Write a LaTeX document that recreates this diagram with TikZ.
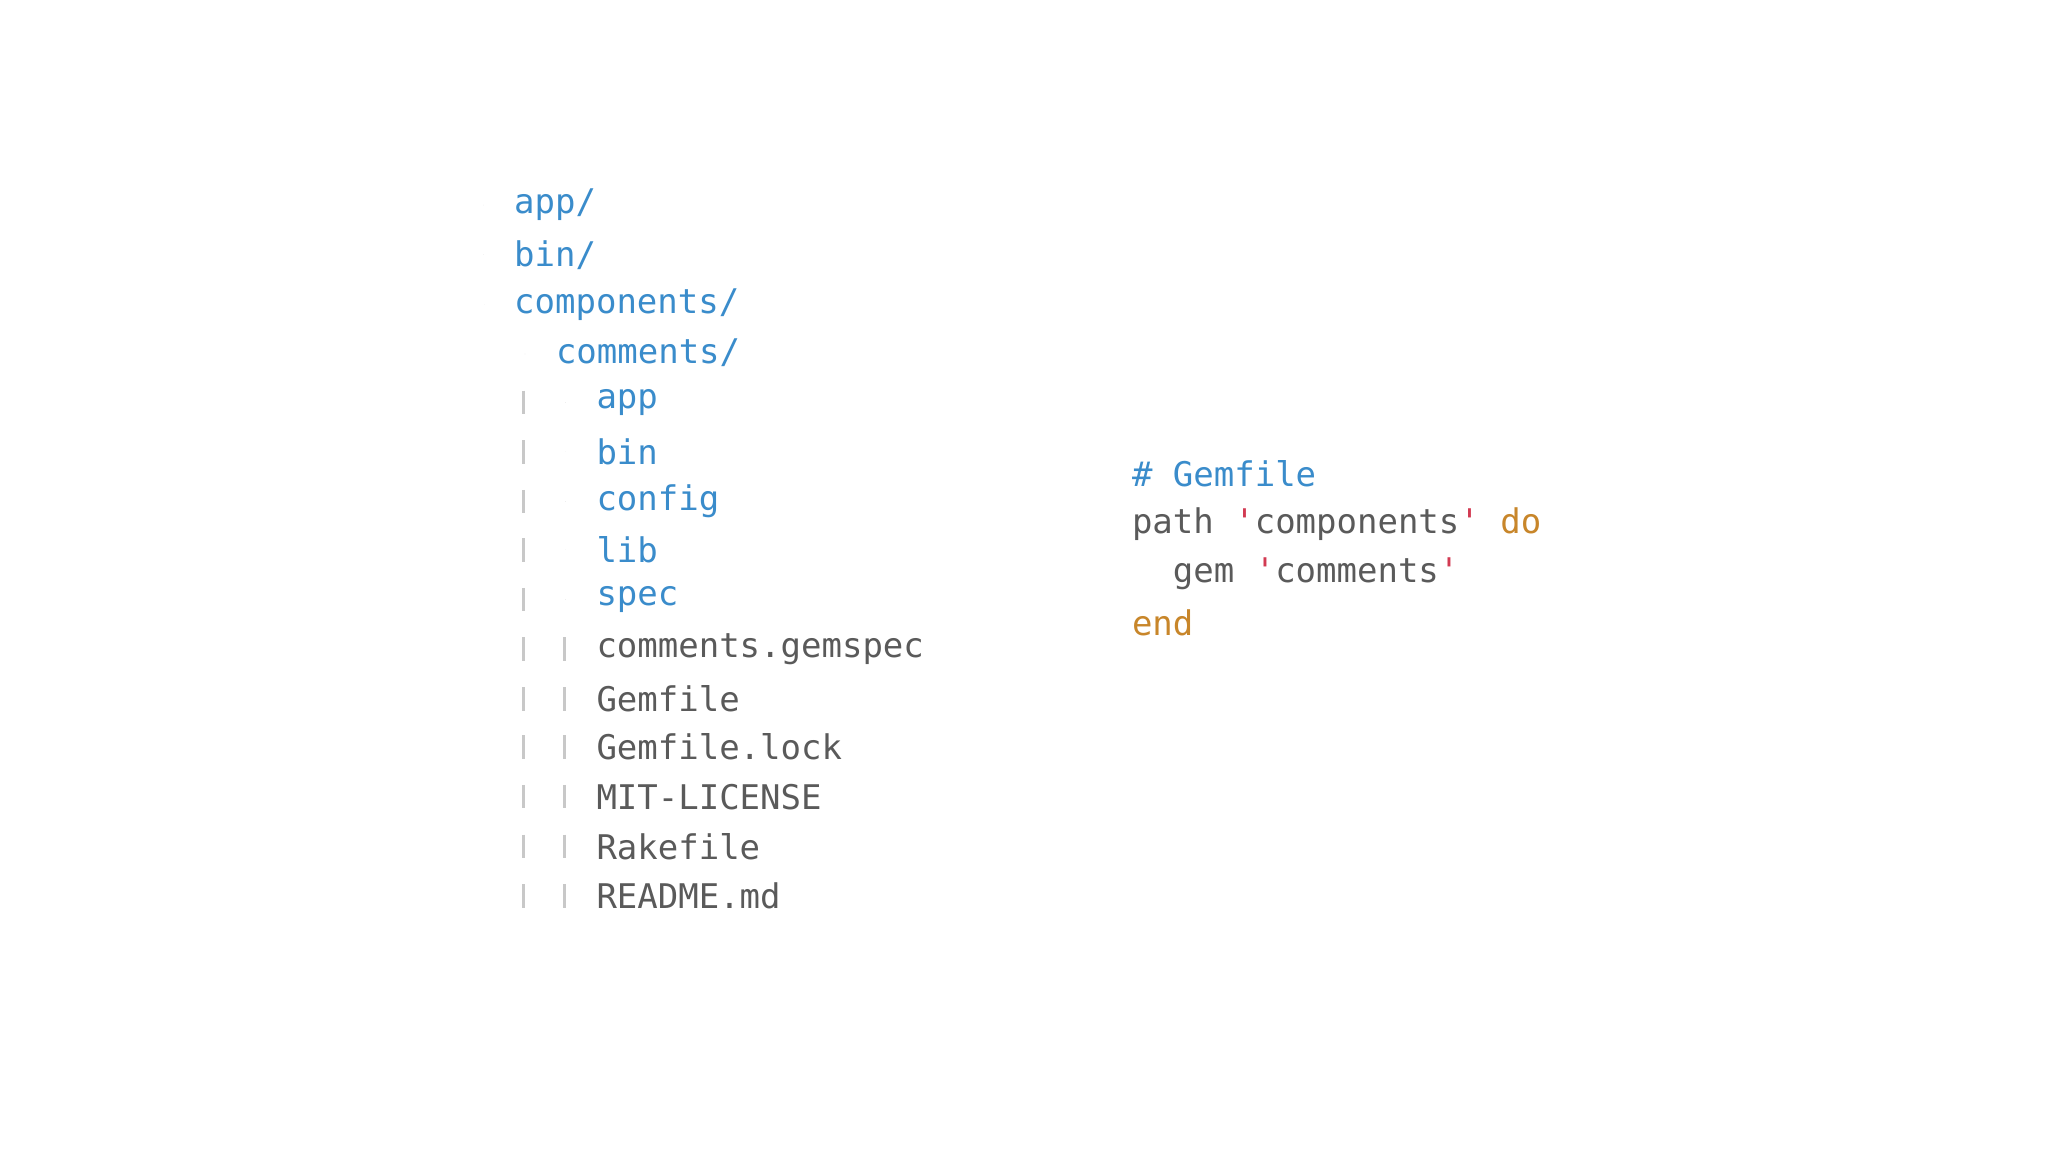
\documentclass[tikz,border=0pt]{standalone}
\usepackage{fontspec}
\setmonofont{DejaVu Sans Mono}
\definecolor{dir}{HTML}{3A8CCB}
\definecolor{fil}{HTML}{5A5A5A}
\definecolor{quo}{HTML}{D23A52}
\definecolor{kw}{HTML}{C8862A}
\definecolor{tri}{HTML}{7A7A7A}
\definecolor{gd}{HTML}{C8C8C8}
\tikzset{
 txt/.style={anchor=west,inner sep=0pt,font=\ttfamily\fontsize{7.4}{9}\selectfont},
 dirn/.style={txt,text=dir},
 filen/.style={txt,text=fil},
 guide/.style={draw=gd,line width=0.6pt},
}
\newcommand{\rt}[2]{\fill[tri] (#1-0.04,#2+0.055) -- (#1+0.05,#2) -- (#1-0.04,#2-0.055) -- cycle;}
\newcommand{\dn}[2]{\fill[tri] (#1-0.065,#2+0.035) -- (#1+0.065,#2+0.035) -- (#1,#2-0.045) -- cycle;}
\begin{document}
\begin{tikzpicture}[x=0.01cm,y=-0.01cm]
\useasboundingbox[fill=white] (0,0) rectangle (1568,882);
% tree
\rt{370}{157} \node[dirn] (a) at (393,157) {app/};
\rt{370}{195} \node[dirn] (b) at (393,195) {bin/};
\dn{371}{233} \node[dirn] (c) at (393,233) {components/};
\dn{402}{271} \node[dirn] (d) at (425,270) {comments/};
\foreach \y/\t/\n in {308/app\//e1,346/bin\//e2,384/config\//e3,421/lib\//e4,459/spec\//e5}{
  \rt{433}{\y} \node[dirn] (\n) at (456,\y) {\t};
  \draw[guide] (401,\y-9) -- (401,\y+9);
}
\foreach \y/\t/\n in {497/comments.gemspec/f1,535/Gemfile/f2,572/Gemfile.lock/f3,610/MIT-LICENSE/f4,648/Rakefile/f5,686/README.md/f6}{
  \node[filen] (\n) at (456,\y) {\t};
  \draw[guide] (401,\y-9) -- (401,\y+9);
  \draw[guide] (432,\y-9) -- (432,\y+9);
}
% code
\node[dirn] (g1) at (866,363) {\# Gemfile};
\node[filen] (g2) at (866,401) {path \textcolor{quo}{'}components\textcolor{quo}{'} \textcolor{kw}{do}};
\node[filen] (g3) at (866,439) {\ \ gem \textcolor{quo}{'}comments\textcolor{quo}{'}};
\node[txt,text=kw] (g4) at (866,477) {end};
\end{tikzpicture}
\end{document}
